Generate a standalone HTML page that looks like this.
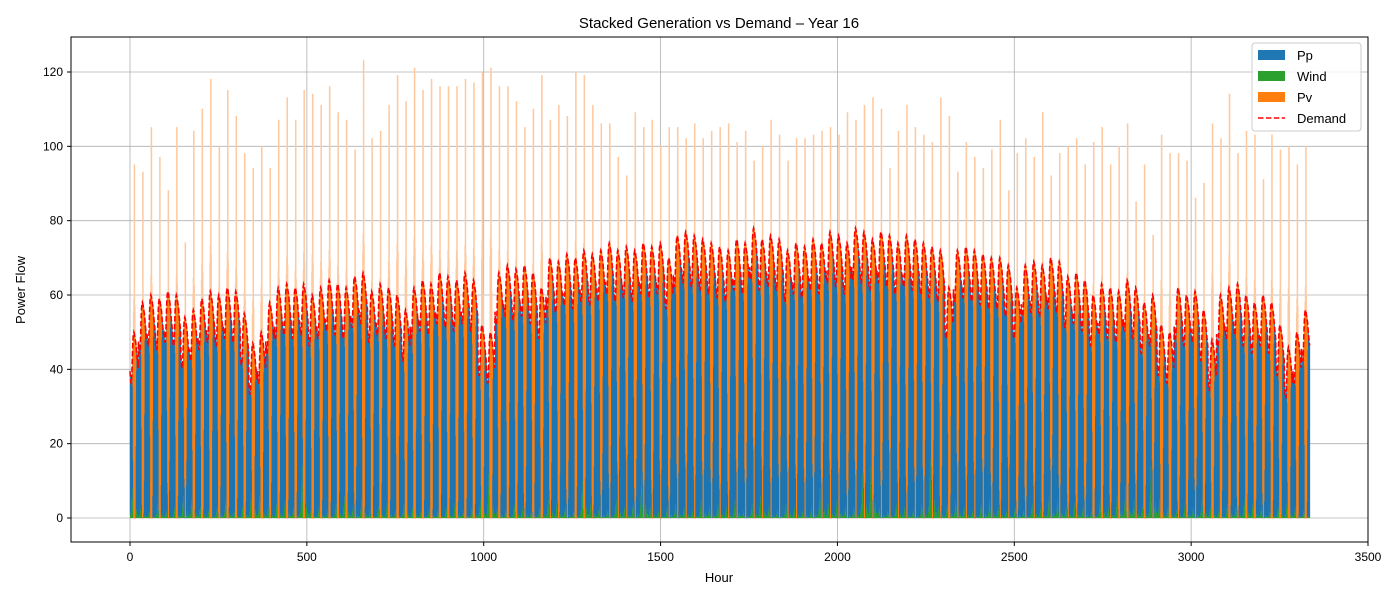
<!DOCTYPE html>
<html><head><meta charset="utf-8"><style>
body{margin:0;background:#fff;}
svg text{font-family:"Liberation Sans","DejaVu Sans",sans-serif;}
</style></head><body>
<svg id="chart" width="1400" height="600" xmlns="http://www.w3.org/2000/svg">
<rect width="1400" height="600" fill="#fff"/>
<text x="719" y="28" font-size="15" text-anchor="middle">Stacked Generation vs Demand – Year 16</text>
<g id="grid"></g>
<g id="plot"></g>
<rect x="71" y="37" width="1297" height="505" fill="none" stroke="#000" stroke-width="1"/>
<g id="ticks"></g>
<text x="719" y="582" font-size="13" text-anchor="middle">Hour</text>
<text transform="translate(25,290) rotate(-90)" font-size="13" text-anchor="middle">Power Flow</text>
<g>
<rect x="1252" y="43" width="109" height="88" rx="3" fill="#fff" fill-opacity="0.8" stroke="#ccc"/>
<rect x="1258" y="50" width="27" height="10" fill="#1f77b4"/>
<text x="1297" y="60" font-size="13">Pp</text>
<rect x="1258" y="71" width="27" height="10" fill="#2ca02c"/>
<text x="1297" y="81" font-size="13">Wind</text>
<rect x="1258" y="92" width="27" height="10" fill="#ff7f0e"/>
<text x="1297" y="102" font-size="13">Pv</text>
<line x1="1258" y1="118" x2="1285" y2="118" stroke="red" stroke-width="1.5" stroke-dasharray="5.5,2.4"/>
<text x="1297" y="123" font-size="13">Demand</text>
</g>
</svg>
<script>
const demandDailyMax=[50,58,60,59,61,60,54,56,59,61,60,62,61,55,47,50,58,62,63,62,63,60,62,64,63,62,65,66,61,63,62,60,56,62,64,63,66,65,64,66,64,52,50,66,68,67,68,66,62,70,69,71,70,72,71,72,74,72,73,72,74,73,74,70,76,77,76,75,74,73,72,75,74,78,75,76,75,72,74,73,75,74,77,76,74,78,77,75,77,76,74,76,75,74,73,72,62,72,73,72,71,70,70,68,62,68,69,68,70,69,65,66,64,60,63,62,61,64,62,58,60,52,50,62,60,61,56,48,60,62,63,60,58,60,58,52,46,50,56];
const pvDailyPeak=[95,93,105,97,88,105,74,104,110,118,100,115,108,98,94,100,94,107,113,107,115,114,111,116,109,107,99,123,102,104,111,119,112,121,115,118,116,116,116,118,117,120,121,116,116,112,105,110,119,107,111,108,120,119,111,106,106,97,92,109,105,107,100,105,105,102,106,102,104,105,106,101,104,96,100,107,103,96,102,102,103,104,105,103,109,107,111,113,110,94,104,111,105,103,101,113,108,93,101,97,94,99,107,88,98,102,97,109,92,98,100,102,95,101,105,95,100,106,85,95,76,103,98,98,96,86,90,106,102,114,98,104,103,91,103,99,100,95,100];
const windDailyPeak=[8,3,2,4,2,3,6,5,3,2,3,5,2,3,7,6,3,4,5,3,14,2,3,2,4,6,3,5,2,3,4,2,4,3,2,3,2,3,4,2,3,5,12,3,2,4,3,2,3,5,4,3,2,10,4,3,2,5,3,4,12,3,2,3,4,3,2,5,3,4,3,5,2,4,6,3,2,4,3,2,3,8,4,5,3,3,12,14,3,2,4,3,2,4,16,3,4,5,3,2,4,5,3,2,3,2,4,3,6,5,3,4,3,2,5,3,6,9,5,3,14,5,3,2,4,3,5,3,2,4,3,5,4,3,2,3,4,3,2];
const demandShape=[0.3,0.2,0.12,0.08,0.1,0.2,0.4,0.62,0.8,0.92,0.97,1.0,0.98,0.95,0.9,0.86,0.82,0.78,0.7,0.62,0.55,0.48,0.42,0.36];
const pvShape=[0,0,0,0,0,0,0,0,0.12,0.35,0.58,0.62,1.0,0.6,0.5,0.3,0.08,0,0,0,0,0,0,0];
const windShape=[0.1,0.1,0.2,0.3,0.5,0.7,1.0,0.6,0.3,0.1,0,0,0,0,0,0,0.1,0.2,0.3,0.2,0.1,0.1,0.1,0.1];
const xTicks=[0,500,1000,1500,2000,2500,3000,3500];
const yTicks=[0,20,40,60,80,100,120];
const demandSwing=15;

const NS="http://www.w3.org/2000/svg";
const X=h=>130+h*(1238/3500);
const Y=v=>518-v*(446/120);
const grid=document.getElementById('grid'),plot=document.getElementById('plot'),ticks=document.getElementById('ticks');
function mk(tag,attrs,parent){const e=document.createElementNS(NS,tag);for(const k in attrs)e.setAttribute(k,attrs[k]);parent.appendChild(e);return e;}
xTicks.forEach(t=>{
 const g=mk('line',{x1:X(t),x2:X(t),y1:37,y2:542,stroke:'#b0b0b0','stroke-width':0.8},grid);
 
 
 const tk=mk('line',{x1:X(t),x2:X(t),y1:542,y2:546,stroke:'#000'},ticks);
 
 
 const tx=mk('text',{x:X(t),y:561,'font-size':12,'text-anchor':'middle'},ticks);tx.textContent=t;
 
 
});
yTicks.forEach(t=>{
 const g=mk('line',{x1:71,x2:1368,y1:Y(t),y2:Y(t),stroke:'#b0b0b0','stroke-width':0.8},grid);
 
 
 const tk=mk('line',{x1:67,x2:71,y1:Y(t),y2:Y(t),stroke:'#000'},ticks);
 
 
 const tx=mk('text',{x:63,y:Y(t)+4,'font-size':12,'text-anchor':'end'},ticks);tx.textContent=t;
 
 
});
let wP='',pP='',vP='',vL='',dPts=[];
const w=1238/3500*1.0;
for(let d=0;d<demandDailyMax.length;d++){
 for(let h=0;h<24;h++){
  const hr=d*24+h;
  const dem=demandDailyMax[d]-demandSwing*(1-demandShape[h]);
  const pv=pvDailyPeak[d]*pvShape[h];
  const wind=Math.min(windDailyPeak[d]*windShape[h],dem);
  const pp=Math.max(0,dem-pv-wind);
  const x=X(hr).toFixed(2);
  dPts.push(x+','+Y(dem).toFixed(2));
  if(wind>0)wP+=`M${x} ${Y(0)}V${Y(wind).toFixed(2)}h${w.toFixed(3)}V${Y(0)}Z`;
  if(pp>0)pP+=`M${x} ${Y(wind).toFixed(2)}V${Y(wind+pp).toFixed(2)}h${w.toFixed(3)}V${Y(wind).toFixed(2)}Z`;
  if(pv>0){
   const b=wind+pp,top=b+pv,solidTop=Math.min(top,Math.max(dem,b));
   if(solidTop>b)vP+=`M${x} ${Y(b).toFixed(2)}V${Y(solidTop).toFixed(2)}h${w.toFixed(3)}V${Y(b).toFixed(2)}Z`;
   if(top>solidTop)vL+=`M${x} ${Y(solidTop).toFixed(2)}V${Y(top).toFixed(2)}h${w.toFixed(3)}V${Y(solidTop).toFixed(2)}Z`;
  }
 }
}
const a=mk('path',{d:pP,fill:'#1f77b4','stroke':'#1f77b4','stroke-width':0.3},plot);


const b=mk('path',{d:wP,fill:'#2ca02c'},plot);


const c=mk('path',{d:vP,fill:'#ff7f0e','stroke':'#ff7f0e','stroke-width':0.8},plot);


const c2=mk('path',{d:vL,fill:'#ffc9a0','stroke':'#ffc9a0','stroke-width':1.2},plot);


const dl=mk('polyline',{points:dPts.join(' '),fill:'none',stroke:'red','stroke-width':1.6,'stroke-dasharray':'5.5,2.4'},plot);


</script>
</body></html>
